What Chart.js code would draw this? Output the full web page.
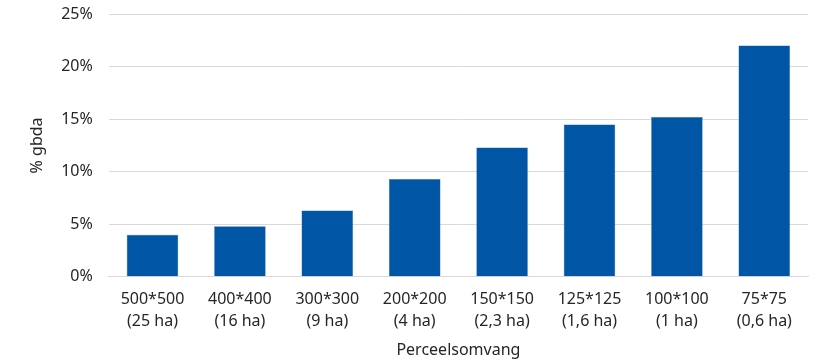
<!DOCTYPE html>
<html>
<head>
<meta charset="utf-8">
<script src="https://cdn.jsdelivr.net/npm/chart.js@4.4.0/dist/chart.umd.min.js"></script>
<style>
  html, body { margin: 0; padding: 0; background: #fff; }
  #wrap { width: 823px; height: 360px; }
</style>
</head>
<body>
<div id="wrap"><canvas id="myChart" width="823" height="360"></canvas></div>
<script>
// categorieën (perceelsomvang) en waarden (% gbda)
const categories = [
  ['500*500', '(25 ha)'],
  ['400*400', '(16 ha)'],
  ['300*300', '(9 ha)'],
  ['200*200', '(4 ha)'],
  ['150*150', '(2,3 ha)'],
  ['125*125', '(1,6 ha)'],
  ['100*100', '(1 ha)'],
  ['75*75', '(0,6 ha)']
];
const gbdaValues = [4.0, 4.8, 6.3, 9.3, 12.3, 14.5, 15.2, 22.0];
const yTicks = [0, 5, 10, 15, 20, 25];

const textColor = '#262626';
const fontFamily = "'Noto Sans', 'Open Sans', sans-serif";

const data = {
  labels: categories,
  datasets: [{
    data: gbdaValues,
    backgroundColor: '#0055A4',
    borderColor: '#2E6DB4',
    borderWidth: 0.5,
    barPercentage: 0.59,
    categoryPercentage: 1
  }]
};

const options = {
  responsive: false,
  animation: false,
  layout: { padding: { top: 0, right: 15, left: 28, bottom: 0 } },
  plugins: {
    legend: { display: false },
    tooltip: { enabled: false }
  },
  scales: {
    x: {
      grid: { display: false, drawTicks: false },
      border: { display: true, color: '#d9d9d9', width: 1 },
      ticks: {
        color: textColor,
        font: { family: fontFamily, size: 16, lineHeight: 1.375 },
        padding: 12,
        maxRotation: 0,
        autoSkip: false
      },
      title: {
        display: true,
        text: 'Perceelsomvang',
        color: textColor,
        font: { family: fontFamily, size: 16 },
        padding: { top: -4, bottom: 0 }
      }
    },
    y: {
      min: 0,
      max: 25,
      afterBuildTicks: axis => { axis.ticks = yTicks.map(v => ({ value: v })); },
      afterFit: axis => { axis.paddingTop = 14; },   // ruimte boven 25% zoals in het origineel
      grid: { color: '#d9d9d9', lineWidth: 1, drawTicks: false },
      border: { display: false },
      ticks: {
        color: textColor,
        font: { family: fontFamily, size: 16 },
        padding: 16,
        callback: v => v + '%'
      },
      title: {
        display: true,
        text: '% gbda',
        color: textColor,
        font: { family: fontFamily, size: 16 },
        padding: { top: 0, bottom: -2 }
      }
    }
  }
};

new Chart('myChart', { type: 'bar', data: data, options: options });
</script>
</body>
</html>
